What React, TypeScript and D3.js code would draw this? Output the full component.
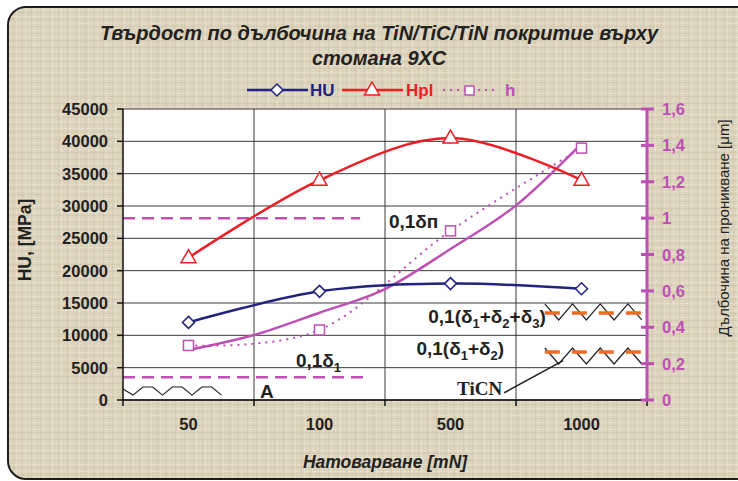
import React from "react";
import * as d3 from "d3";

// loads in mN
const loads = ["50", "100", "500", "1000"];
// hardness, MPa (left axis)
const hu = [12000, 16800, 18000, 17200];
const hpl = [22000, 34000, 40500, 34000];
// penetration depth, µm (right axis)
const depth = [0.3, 0.385, 0.93, 1.385];
// solid trend of the depth, read at half-category steps
const trendPos = [0, 0.5, 1, 1.5, 2, 2.5, 3];
const trendDepth = [0.275, 0.357, 0.48, 0.61, 0.83, 1.07, 1.41];

const leftTicks = [0, 5000, 10000, 15000, 20000, 25000, 30000, 35000, 40000, 45000];
const rightTicks = [0, 0.2, 0.4, 0.6, 0.8, 1, 1.2, 1.4, 1.6];

const W = 738;
const H = 481;
const margin = { top: 109, right: 91, bottom: 81, left: 123 };
const innerW = W - margin.left - margin.right;
const innerH = H - margin.top - margin.bottom;

const navy = "#22237e";
const red = "#ee1d25";
const magenta = "#bc50b4";
const orange = "#f26a22";
const font = "'Liberation Sans', Arial, sans-serif";

const fmt = (v: number) => String(v).replace(".", ",");

function zigzag(x0: number, x1: number, yHi: number, yLo: number, n: number, startHigh: boolean) {
  const pts: [number, number][] = [];
  for (let i = 0; i <= n; i++) {
    const hi = startHigh ? i % 2 === 0 : i % 2 === 1;
    pts.push([x0 + ((x1 - x0) * i) / n, hi ? yHi : yLo]);
  }
  return d3.line()(pts) || "";
}

function flatWave(x0: number, period: number, count: number, yHi: number, yLo: number) {
  const pts: [number, number][] = [[x0, yHi + 2]];
  for (let i = 0; i < count; i++) {
    const p = x0 + 10 + i * period;
    pts.push([p, yLo], [p + period / 3, yHi], [p + (2 * period) / 3, yHi]);
  }
  pts.push([x0 + 10 + count * period, yLo]);
  return d3.line()(pts) || "";
}

export default function App() {
  const x = d3.scaleBand().domain(loads).range([0, innerW]);
  const xi = d3.scaleLinear().domain([-0.5, loads.length - 0.5]).range([0, innerW]);
  const yL = d3.scaleLinear().domain([0, 45000]).range([innerH, 0]);
  const yR = d3.scaleLinear().domain([0, 1.6]).range([innerH, 0]);

  const cx = (d: string) => (x(d) as number) + x.bandwidth() / 2;
  const smooth = d3.line<[number, number]>().curve(d3.curveCatmullRom.alpha(0));

  const huPath = smooth(loads.map((d, i) => [cx(d), yL(hu[i])]));
  const hplPath = smooth(loads.map((d, i) => [cx(d), yL(hpl[i])]));
  const depthPath = smooth(loads.map((d, i) => [cx(d), yR(depth[i])]));
  const trendPath = smooth(trendPos.map((p, i) => [xi(p), yR(trendDepth[i])]));

  const diamond = (px: number, py: number) => `M${px},${py - 6}L${px + 6},${py}L${px},${py + 6}L${px - 6},${py}Z`;
  const triangle = (px: number, py: number) => `M${px},${py - 8}L${px + 7.5},${py + 5}L${px - 7.5},${py + 5}Z`;

  const bounds = d3.range(loads.length + 1).map((i) => i * x.bandwidth());

  const sub = (t: string) => (
    <tspan fontSize={13} dy={5}>{t}</tspan>
  );
  const up = (t: string) => <tspan dy={-5}>{t}</tspan>;

  return (
    <svg width={W} height={H} style={{ position: "absolute", left: 0, top: 0 }} fontFamily={font}>
      <defs>
        <pattern id="linen" width="9" height="7" patternUnits="userSpaceOnUse">
          <rect width="9" height="7" fill="#dcd3bd" />
          <rect x="0" y="2" width="9" height="1" fill="#e9e2cf" opacity="0.7" />
          <rect x="4" y="0" width="1" height="7" fill="#cfc5ab" opacity="0.6" />
          <rect x="7" y="0" width="1" height="7" fill="#ebe5d4" opacity="0.6" />
          <rect x="0" y="5" width="9" height="1" fill="#cbc1a6" opacity="0.5" />
        </pattern>
      </defs>
      <rect x={8} y={7} width={750} height={472} rx={18} fill="url(#linen)" stroke="#1d1d1d" strokeWidth={2} />

      {/* title */}
      <g fontWeight="bold" fontStyle="italic" fontSize={20} fill="#222" textAnchor="middle">
        <text x={379} y={40}>Твърдост по дълбочина на TiN/TiC/TiN покритие върху</text>
        <text x={379} y={65}>стомана 9ХС</text>
      </g>

      {/* legend */}
      <g fontWeight="bold" fontSize={17}>
        <line x1={247} x2={308} y1={90} y2={90} stroke={navy} strokeWidth={2.5} />
        <path d={diamond(277, 90)} fill="#fff" stroke={navy} strokeWidth={1.5} />
        <text x={310} y={96} fill={navy}>HU</text>
        <line x1={342} x2={403} y1={90} y2={90} stroke={red} strokeWidth={2.5} />
        <path d={triangle(372, 90)} fill="#fff" stroke={red} strokeWidth={1.5} />
        <text x={406} y={96} fill={red}>Hpl</text>
        <line x1={443} x2={498} y1={90} y2={90} stroke={magenta} strokeWidth={2} strokeDasharray="2,5" />
        <rect x={465} y={86} width={9} height={9} fill="#fff" stroke={magenta} strokeWidth={1.5} />
        <text x={505} y={96} fill={magenta}>h</text>
      </g>

      <g transform={`translate(${margin.left},${margin.top})`}>
        <rect width={innerW} height={innerH} fill="#fff" />
        {leftTicks.map((t) => (
          <line key={t} x1={0} x2={innerW} y1={yL(t)} y2={yL(t)} stroke="#3a3a3a" strokeWidth={1} />
        ))}
        {bounds.slice(1, -1).map((b) => (
          <line key={b} x1={b} x2={b} y1={0} y2={innerH} stroke="#3a3a3a" strokeWidth={1} />
        ))}

        {/* reference levels */}
        <line x1={0} x2={xi(1.31)} y1={yR(1)} y2={yR(1)} stroke={magenta} strokeWidth={2.5} strokeDasharray="12,7" />
        <line x1={0} x2={xi(1.36)} y1={yR(0.125)} y2={yR(0.125)} stroke={magenta} strokeWidth={2.5} strokeDasharray="12,7" />

        <path d={zigzag(xi(2.72), xi(3.46), yR(0.528), yR(0.44), 7, true)} fill="none" stroke="#222" strokeWidth={1.2} />
        <path d={zigzag(xi(2.72), xi(3.46), yR(0.286), yR(0.198), 7, true)} fill="none" stroke="#222" strokeWidth={1.2} />
        <path d={flatWave(0, 29.5, 3, yR(0.0715), yR(0.027))} fill="none" stroke="#222" strokeWidth={1.2} />
        <line x1={xi(2.72)} x2={xi(3.47)} y1={yR(0.478)} y2={yR(0.478)} stroke={orange} strokeWidth={3.5} strokeDasharray="15,12" />
        <line x1={xi(2.72)} x2={xi(3.47)} y1={yR(0.264)} y2={yR(0.264)} stroke={orange} strokeWidth={3.5} strokeDasharray="15,12" />
        <line x1={xi(2.41)} x2={xi(2.86)} y1={yR(0.04)} y2={yR(0.216)} stroke="#222" strokeWidth={1.5} />

        {/* series */}
        <path d={trendPath || ""} fill="none" stroke={magenta} strokeWidth={2.5} />
        <path d={depthPath || ""} fill="none" stroke={magenta} strokeWidth={2} strokeDasharray="2,5" />
        <path d={huPath || ""} fill="none" stroke={navy} strokeWidth={2.5} />
        <path d={hplPath || ""} fill="none" stroke={red} strokeWidth={2.5} />
        {loads.map((d, i) => (
          <g key={d}>
            <path d={diamond(cx(d), yL(hu[i]))} fill="#fff" stroke={navy} strokeWidth={1.5} />
            <path d={triangle(cx(d), yL(hpl[i]))} fill="#fff" stroke={red} strokeWidth={1.5} />
            <rect x={cx(d) - 5} y={yR(depth[i]) - 5} width={10} height={10} fill="#fff" stroke={magenta} strokeWidth={1.5} />
          </g>
        ))}

        {/* annotations */}
        <g fontWeight="bold" fontSize={19} fill="#222">
          <text x={xi(1.53)} y={yR(0.946)}>0,1δп</text>
          <text x={xi(0.82)} y={yR(0.181)}>0,1δ{sub("1")}</text>
          <text x={xi(1.83)} y={yR(0.423)}>0,1(δ{sub("1")}{up("+δ")}{sub("2")}{up("+δ")}{sub("3")}{up(")")}</text>
          <text x={xi(1.74)} y={yR(0.247)}>0,1(δ{sub("1")}{up("+δ")}{sub("2")}{up(")")}</text>
          <text x={xi(0.546)} y={yR(0.011)}>A</text>
          <text x={xi(2.05)} y={yR(0.027)} fontFamily="'Liberation Serif', 'Times New Roman', serif">TiCN</text>
        </g>

        {/* left axis */}
        <line x1={0} x2={0} y1={0} y2={innerH} stroke="#111" strokeWidth={1.5} />
        <g fontWeight="bold" fontSize={16.5} fill="#222" textAnchor="end">
          {leftTicks.map((t) => (
            <g key={t}>
              <line x1={-6} x2={0} y1={yL(t)} y2={yL(t)} stroke="#111" strokeWidth={1.5} />
              <text x={-15} y={yL(t) + 6}>{t}</text>
            </g>
          ))}
        </g>

        {/* bottom axis */}
        <line x1={0} x2={innerW} y1={innerH} y2={innerH} stroke="#111" strokeWidth={1.5} />
        {bounds.map((b) => (
          <line key={b} x1={b} x2={b} y1={innerH} y2={innerH + 6} stroke="#111" strokeWidth={1.5} />
        ))}
        <g fontWeight="bold" fontSize={16.5} fill="#222" textAnchor="middle">
          {loads.map((d) => (
            <text key={d} x={cx(d)} y={innerH + 30}>{d}</text>
          ))}
        </g>

        {/* right axis */}
        <line x1={innerW} x2={innerW} y1={0} y2={innerH} stroke={magenta} strokeWidth={3} />
        <g fontWeight="bold" fontSize={16.5} fill={magenta}>
          {rightTicks.map((t) => (
            <g key={t}>
              <line x1={innerW - 6} x2={innerW + 7} y1={yR(t)} y2={yR(t)} stroke={magenta} strokeWidth={3} />
              <text x={innerW + 15} y={yR(t) + 6}>{fmt(t)}</text>
            </g>
          ))}
        </g>
      </g>

      <text x={385} y={468} textAnchor="middle" fontWeight="bold" fontStyle="italic" fontSize={17.5} fill="#222">
        Натоварване [mN]
      </text>
      <text transform="translate(31,240) rotate(-90)" textAnchor="middle" fontWeight="bold" fontSize={17.5} fill="#222">
        HU, [MPa]
      </text>
      <text transform="translate(729,228) rotate(-90)" textAnchor="middle" fontSize={15} fill="#222">
        Дълбочина на проникване [μm]
      </text>
    </svg>
  );
}
